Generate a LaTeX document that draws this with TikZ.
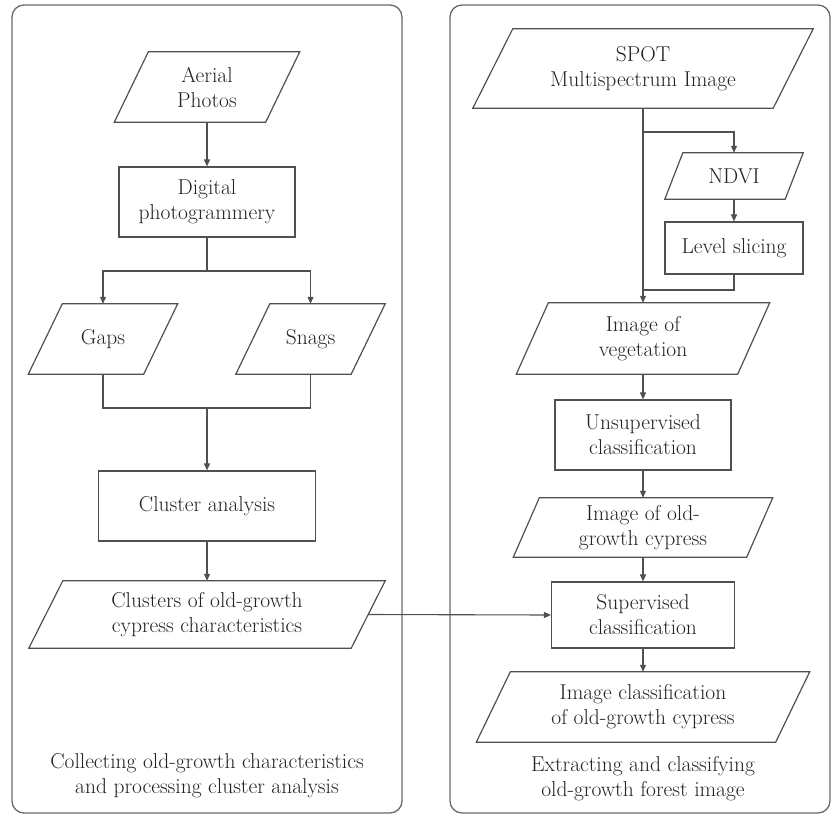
\documentclass[tikz,border=0pt]{standalone}
\usetikzlibrary{arrows.meta,calc}
\definecolor{linec}{HTML}{505050}
\definecolor{panelc}{HTML}{6A6A6A}
\definecolor{textc}{HTML}{222222}
\newcommand{\drawpara}[2]{%
  \draw[nodeline] ($(#1.north west)+(#2,0)$) -- ($(#1.north east)+(#2,0)$) -- ($(#1.south east)+(-#2,0)$) -- ($(#1.south west)+(-#2,0)$) -- cycle;}
\begin{document}
\begin{tikzpicture}[x=1pt,y=-1pt,
  nodeline/.style={draw=linec, line width=1.2pt},
  txt/.style={inner sep=0pt, align=center, text=textc, font=\fontsize{21.5}{25}\selectfont},
  box/.style={txt, draw=linec, line width=1.2pt},
  para/.style={txt, draw=none},
  conn/.style={draw=linec, line width=1.1pt},
  arr/.style={conn, -{Triangle[length=7pt,width=6pt]}},
  panel/.style={draw=panelc, line width=1.3pt, rounded corners=12pt}]
\useasboundingbox (0,0) rectangle (832,816);
% panels
\draw[panel] (12,5) rectangle (402,813);
\draw[panel] (450,5) rectangle (830,813);
% left column
\node[para, minimum width=151, minimum height=70] (aerial) at (207,87) {Aerial\\Photos};
\drawpara{aerial}{17}
\node[box, minimum width=176, minimum height=70] (digital) at (207,202) {Digital\\photogrammery};
\node[para, minimum width=115, minimum height=70] (gaps) at (103,339) {Gaps};
\drawpara{gaps}{17}
\node[para, minimum width=115, minimum height=70] (snags) at (310.5,339) {Snags};
\drawpara{snags}{17}
\node[box, minimum width=217, minimum height=70] (cluster) at (207,506) {Cluster analysis};
\node[para, minimum width=322, minimum height=67] (clusters) at (207,614.5) {Clusters of old-growth\\cypress characteristics};
\drawpara{clusters}{17}
\node[txt] (capL) at (207,776) {Collecting old-growth characteristics\\and processing cluster analysis};
% right column
\node[para, minimum width=300, minimum height=79] (spot) at (643,68.5) {SPOT\\Multispectrum Image};
\drawpara{spot}{20}
\node[para, minimum width=120, minimum height=46] (ndvi) at (734,176) {NDVI};
\drawpara{ndvi}{9}
\node[box, minimum width=138, minimum height=52] (level) at (734,248) {Level slicing};
\node[para, minimum width=221, minimum height=71] (veg) at (643,338.5) {Image of\\vegetation};
\drawpara{veg}{16}
\node[box, minimum width=176, minimum height=70] (unsup) at (643,435) {Unsupervised\\classification};
\node[para, minimum width=233, minimum height=59] (oldimg) at (643,527.5) {Image of old-\\growth cypress};
\drawpara{oldimg}{13}
\node[box, minimum width=183, minimum height=66] (superv) at (643,615) {Supervised\\classification};
\node[para, minimum width=299, minimum height=70] (classimg) at (643,707) {Image classification\\of old-growth cypress};
\drawpara{classimg}{17}
\node[txt] (capR) at (643,779) {Extracting and classifying\\old-growth forest image};
% connectors left
\coordinate (j1) at (207,271);
\coordinate (j2) at (207,408);
\draw[arr] (aerial.south) -- (digital.north);
\draw[conn] (digital.south) -- (j1);
\draw[arr] (j1) -| (gaps.north);
\draw[arr] (j1) -| (snags.north);
\draw[conn] (gaps.south) |- (j2) -| (snags.south);
\draw[arr] (j2) -- (cluster.north);
\draw[arr] (cluster.south) -- (clusters.north);
\draw[arr] (clusters.east) -- (superv.west);
% connectors right
\coordinate (j3) at (643,132);
\coordinate (j4) at (643,290);
\draw[arr] (spot.south) -- (veg.north);
\draw[arr] (j3) -| (ndvi.north);
\draw[arr] (ndvi.south) -- (level.north);
\draw[conn] (level.south) |- (j4);
\draw[arr] (veg.south) -- (unsup.north);
\draw[arr] (unsup.south) -- (oldimg.north);
\draw[arr] (oldimg.south) -- (superv.north);
\draw[arr] (superv.south) -- (classimg.north);
\end{tikzpicture}
\end{document}
